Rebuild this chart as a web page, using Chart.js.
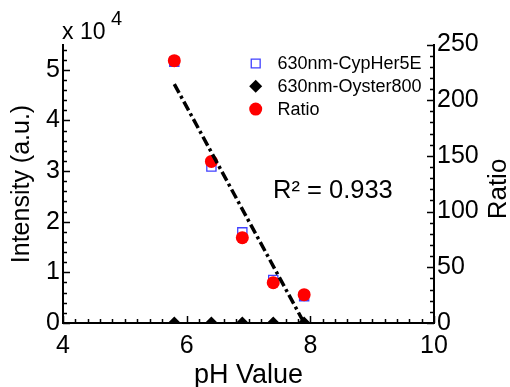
<!DOCTYPE html>
<html>
<head>
<meta charset="utf-8">
<script src="https://cdn.jsdelivr.net/npm/chart.js@4/dist/chart.umd.min.js"></script>
<style>
  html, body { margin: 0; padding: 0; background: #fff; }
  #wrap { width: 510px; height: 387px; }
</style>
</head>
<body>
<div id="wrap"><canvas id="phChart"></canvas></div>
<script>
// values
const phValues = [5.8, 6.4, 6.9, 7.4, 7.9];
const cypher5e = [5.16, 3.09, 1.79, 0.85, 0.53];   // x 10^4
const oyster800 = [0, 0, 0, 0, 0];                 // x 10^4
const ratio = [235.5, 145, 76.6, 36.2, 25.4];
const fitPh = [5.8, 7.9];
const fitRatio = [214.5, 0];
const xTicks = [4, 6, 8, 10];
const leftTicks = [0, 1, 2, 3, 4, 5];
const rightTicks = [0, 50, 100, 150, 200, 250];
const r2Label = 'R\u00b2 = 0.933';

const FONT = "'Liberation Sans', Arial, sans-serif";

function pts(xs, ys) {
    return xs.map((x, i) => ({ x: x, y: ys[i] }));
}

// inward tick marks, majors longer
const tickMarks = {
    id: 'tickMarks',
    beforeDatasetsDraw(chart) {
        const ctx = chart.ctx;
        const sx = chart.scales.x, sy = chart.scales.y, sr = chart.scales.y2;
        const a = chart.chartArea;
        ctx.save();
        ctx.strokeStyle = '#000';
        ctx.lineWidth = 1.5;
        ctx.beginPath();
        for (let v = 4; v <= 10.001; v += 0.2) {
            const p = Math.round(sx.getPixelForValue(v)) + 0.5;
            const len = xTicks.some(t => Math.abs(t - v) < 1e-6) ? 7 : 4;
            ctx.moveTo(p, a.bottom);
            ctx.lineTo(p, a.bottom - len);
        }
        for (let v = 0; v <= 5.5001; v += 0.2) {
            const p = Math.round(sy.getPixelForValue(v)) + 0.5;
            const len = leftTicks.some(t => Math.abs(t - v) < 1e-6) ? 7 : 4;
            ctx.moveTo(a.left, p);
            ctx.lineTo(a.left + len, p);
        }
        for (let v = 0; v <= 250.001; v += 10) {
            const p = Math.round(sr.getPixelForValue(v)) + 0.5;
            const len = rightTicks.some(t => Math.abs(t - v) < 1e-6) ? 7 : 4;
            ctx.moveTo(a.right, p);
            ctx.lineTo(a.right - len, p);
        }
        ctx.stroke();
        ctx.restore();
    }
};

// legend inside the plot, titles and the R^2 note
const annotations = {
    id: 'annotations',
    afterDraw(chart) {
        const ctx = chart.ctx;
        const a = chart.chartArea;
        ctx.save();

        let rowY = 63.5;
        chart.data.datasets.forEach(ds => {
            if (!ds.label) return;
            ctx.fillStyle = ds.backgroundColor;
            ctx.strokeStyle = ds.borderColor;
            ctx.lineWidth = ds.borderWidth;
            Chart.helpers.drawPoint(ctx, {
                pointStyle: ds.pointStyle,
                radius: ds.legendRadius,
                rotation: 0,
                borderWidth: ds.borderWidth
            }, 255.7, rowY);
            ctx.fillStyle = '#000';
            ctx.font = '18px ' + FONT;
            ctx.textAlign = 'left';
            ctx.textBaseline = 'middle';
            ctx.fillText(ds.label, 277.5, rowY + 1);
            rowY += 22.8;
        });

        ctx.fillStyle = '#000';
        ctx.textBaseline = 'alphabetic';
        ctx.textAlign = 'left';
        ctx.font = '23px ' + FONT;
        ctx.fillText('x 10', 62, 39);
        ctx.font = '20px ' + FONT;
        ctx.fillText('4', 111, 25);

        ctx.font = '25.5px ' + FONT;
        ctx.fillText(r2Label, 273, 198);

        ctx.textAlign = 'center';
        ctx.font = '27px ' + FONT;
        ctx.fillText('pH Value', (a.left + a.right) / 2, 383);

        ctx.textBaseline = 'middle';
        ctx.save();
        ctx.translate(22.5, 184);
        ctx.rotate(-Math.PI / 2);
        ctx.font = '25px ' + FONT;
        ctx.fillText('Intensity (a.u.)', 0, 0);
        ctx.restore();

        ctx.save();
        ctx.translate(499, 189);
        ctx.rotate(-Math.PI / 2);
        ctx.font = '26px ' + FONT;
        ctx.fillText('Ratio', 0, 0);
        ctx.restore();

        ctx.restore();
    }
};

document.addEventListener('DOMContentLoaded', function() {
    const ctx = document.getElementById('phChart').getContext('2d');
    const axisBorder = { display: true, color: '#000', width: 2 };
    const tickFont = { family: FONT, size: 25 };

    new Chart(ctx, {
        type: 'scatter',
        data: {
            datasets: [
                {
                    data: pts(fitPh, fitRatio),
                    yAxisID: 'y2',
                    showLine: true,
                    borderColor: '#000',
                    borderWidth: 3.5,
                    borderDash: [10, 3.5, 3, 3.5],
                    pointRadius: 0,
                    order: 0
                },
                {
                    label: '630nm-CypHer5E',
                    data: pts(phValues, cypher5e),
                    yAxisID: 'y',
                    pointStyle: 'rect',
                    pointRadius: 6.5,
                    legendRadius: 6.3,
                    backgroundColor: 'rgba(255,255,255,0)',
                    borderColor: '#4040ff',
                    borderWidth: 1.3,
                    order: 3
                },
                {
                    label: '630nm-Oyster800',
                    data: pts(phValues, oyster800),
                    yAxisID: 'y',
                    pointStyle: 'rectRot',
                    pointRadius: 6.5,
                    legendRadius: 6.5,
                    backgroundColor: '#000',
                    borderColor: '#000',
                    borderWidth: 0,
                    order: 2
                },
                {
                    label: 'Ratio',
                    data: pts(phValues, ratio),
                    yAxisID: 'y2',
                    pointStyle: 'circle',
                    pointRadius: 6.5,
                    legendRadius: 6.5,
                    backgroundColor: '#ff0000',
                    borderColor: '#ff0000',
                    borderWidth: 0,
                    order: 1
                }
            ]
        },
        options: {
            responsive: true,
            maintainAspectRatio: false,
            animation: false,
            layout: { padding: { top: 44.5, left: 0, right: 0, bottom: 0 } },
            plugins: {
                legend: { display: false },
                tooltip: { enabled: false }
            },
            elements: { point: { hoverRadius: 6.5 } },
            scales: {
                x: {
                    type: 'linear',
                    min: 4,
                    max: 10,
                    afterFit: s => { s.height = 64; },
                    afterBuildTicks: s => { s.ticks = xTicks.map(v => ({ value: v })); },
                    grid: { display: false, drawTicks: false },
                    border: axisBorder,
                    ticks: { font: tickFont, color: '#000', padding: 8, maxRotation: 0 }
                },
                y: {
                    position: 'left',
                    min: 0,
                    max: 5.5,
                    afterFit: s => { s.width = 63; },
                    afterBuildTicks: s => { s.ticks = leftTicks.map(v => ({ value: v })); },
                    grid: { display: false, drawTicks: false },
                    border: axisBorder,
                    ticks: { font: tickFont, color: '#000', padding: 3 }
                },
                y2: {
                    position: 'right',
                    min: 0,
                    max: 250,
                    afterFit: s => { s.width = 76; },
                    afterBuildTicks: s => { s.ticks = rightTicks.map(v => ({ value: v })); },
                    grid: { display: false, drawTicks: false },
                    border: axisBorder,
                    ticks: { font: tickFont, color: '#000', padding: 3 }
                }
            }
        },
        plugins: [tickMarks, annotations]
    });
});
</script>
</body>
</html>
